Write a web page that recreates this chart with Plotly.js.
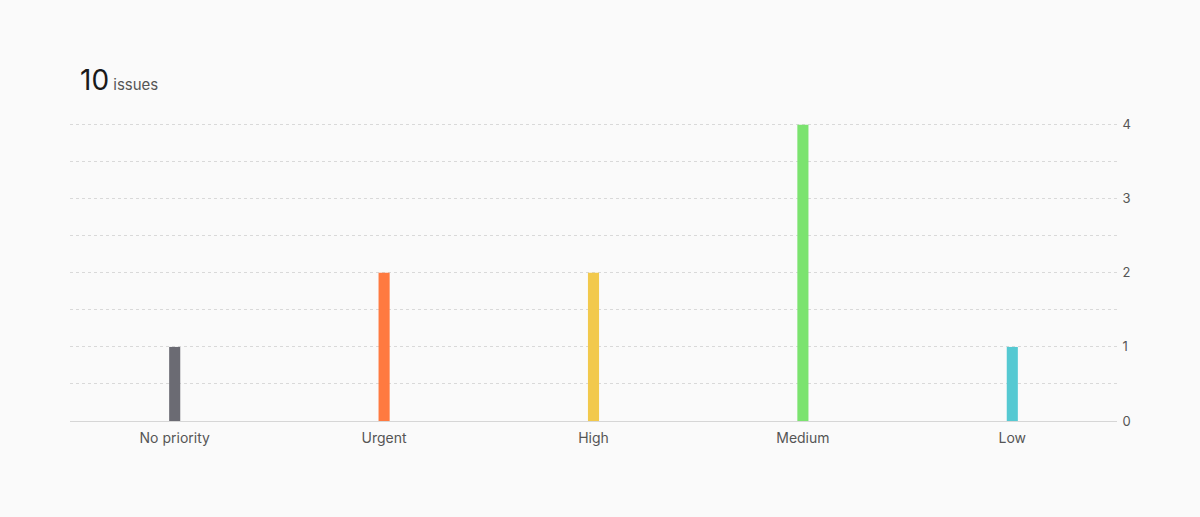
<!DOCTYPE html>
<html>
<head>
<meta charset="utf-8">
<script src="https://cdn.plot.ly/plotly-3.0.1.min.js"></script>
<style>
  html, body { margin: 0; padding: 0; background: #fafafa; }
  #chart { width: 1200px; height: 517px; }
</style>
</head>
<body>
<div id="chart"></div>
<script>
var priorities = ['No priority', 'Urgent', 'High', 'Medium', 'Low'];
var counts = [1, 2, 2, 4, 1];
var barColors = ['#6b6b73', '#ff7a40', '#f2c94c', '#7be36f', '#55c9d2'];
var yTicks = [0, 1, 2, 3, 4];

var total = counts.reduce(function (a, b) { return a + b; }, 0);

var trace = {
    x: priorities,
    y: counts,
    type: 'bar',
    width: 0.053,
    marker: { color: barColors },
    hoverinfo: 'x+y'
};

var layout = {
    width: 1200,
    height: 517,
    paper_bgcolor: '#fafafa',
    plot_bgcolor: '#fafafa',
    font: { family: 'Inter, "Noto Sans", sans-serif', color: '#555', size: 14 },
    margin: { l: 70, r: 83, t: 121, b: 96 },
    showlegend: false,
    title: {
        text: '<span style="font-size:28px;color:#1a1a1a">' + total + '</span>' +
              '<span style="font-size:15px;color:#555"> issues</span>',
        xref: 'container', yref: 'container',
        x: 80 / 1200, xanchor: 'left',
        y: 1 - 83 / 517, yanchor: 'middle'
    },
    xaxis: {
        type: 'category',
        range: [-0.5, 4.5],
        showgrid: false,
        zeroline: false,
        showline: true,
        linecolor: '#d6d6d6',
        linewidth: 1,
        ticks: 'outside',
        ticklen: 4,
        tickcolor: 'rgba(0,0,0,0)',
        fixedrange: true
    },
    yaxis: {
        side: 'right',
        range: [0, 4.05],
        tickvals: yTicks,
        ticks: 'outside',
        ticklen: 2,
        tickcolor: 'rgba(0,0,0,0)',
        showgrid: true,
        gridcolor: '#d9d9d9',
        griddash: '3px,3px',
        gridwidth: 1,
        zeroline: false,
        minor: { dtick: 0.5, showgrid: true, gridcolor: '#d9d9d9', griddash: '3px,3px', gridwidth: 1 },
        tickfont: { size: 13, color: '#555' },
        fixedrange: true
    }
};

Plotly.newPlot('chart', [trace], layout, { displayModeBar: false, staticPlot: true });
</script>
</body>
</html>
